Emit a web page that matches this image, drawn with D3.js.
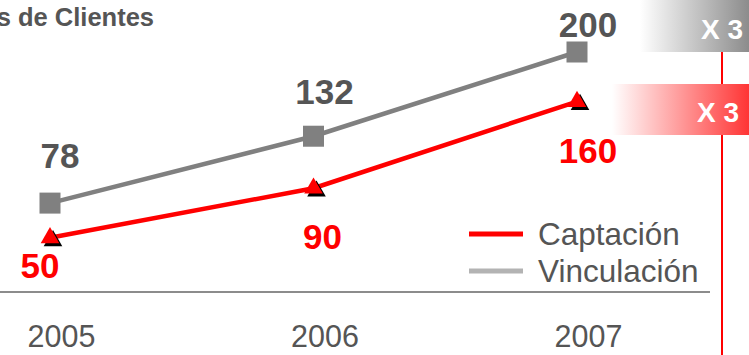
<!DOCTYPE html>
<html>
<head>
<meta charset="utf-8">
<script src="https://cdn.jsdelivr.net/npm/d3@7"></script>
<style>
  html, body { margin: 0; padding: 0; background: #fff; }
  svg { display: block; font-family: Arial, "Liberation Sans", sans-serif; }
</style>
</head>
<body>
<svg id="chart" width="749" height="355"></svg>
<script>
// Clientes por año
const years = ["2005", "2006", "2007"];
const captacion = [50, 90, 160];
const vinculacion = [78, 132, 200];
const seriesNames = ["Captación", "Vinculación"];
const growthLabels = ["X 3", "X 3"];
const title = "Miles de Clientes";

const svg = d3.select("#chart");
const W = 749, H = 355;

const x = d3.scalePoint().domain(years).range([50, 577]);
const y = d3.scaleLinear().domain([0, 200]).range([299.7, 52]);

const RED = "#ff0000";
const GREY = "#808080";
const LABEL_GREY = "#555555";

const defs = svg.append("defs");
const gGrey = defs.append("linearGradient").attr("id", "gGrey");
gGrey.append("stop").attr("offset", "0%").attr("stop-color", "#ffffff");
gGrey.append("stop").attr("offset", "100%").attr("stop-color", "#8c8c8c");
const gRed = defs.append("linearGradient").attr("id", "gRed");
gRed.append("stop").attr("offset", "0%").attr("stop-color", "#ffffff");
gRed.append("stop").attr("offset", "100%").attr("stop-color", "#ff3535");

// title (runs off the left edge of the slide)
svg.append("text")
  .attr("x", 154).attr("y", 26)
  .attr("text-anchor", "end")
  .attr("font-size", 25.5).attr("font-weight", "bold")
  .attr("fill", LABEL_GREY)
  .text(title);

// growth marker line on the right
svg.append("line")
  .attr("x1", 722).attr("x2", 722).attr("y1", 52).attr("y2", H)
  .attr("stroke", RED).attr("stroke-width", 2);

// growth boxes
svg.append("rect").attr("x", 640).attr("y", 0).attr("width", W - 640).attr("height", 52)
  .attr("fill", "url(#gGrey)");
svg.append("rect").attr("x", 612).attr("y", 84).attr("width", W - 612).attr("height", 51)
  .attr("fill", "url(#gRed)");
svg.append("text").attr("x", 743).attr("y", 39).attr("text-anchor", "end")
  .attr("font-size", 28).attr("font-weight", "bold").attr("fill", "#fff")
  .text(growthLabels[0]);
svg.append("text").attr("x", 739).attr("y", 122).attr("text-anchor", "end")
  .attr("font-size", 28).attr("font-weight", "bold").attr("fill", "#fff")
  .text(growthLabels[1]);

// baseline axis with year labels
const axis = d3.axisBottom(x).tickSize(0).tickPadding(0);
const axisG = svg.append("g").attr("transform", "translate(0,292)").call(axis);
axisG.select(".domain").remove();
axisG.append("line").attr("x1", 0).attr("x2", 710).attr("y1", 0).attr("y2", 0)
  .attr("stroke", "#666").attr("stroke-width", 1.5);
axisG.selectAll(".tick text")
  .attr("dx", 11).attr("dy", 0).attr("y", 55)
  .attr("font-size", 30.5).attr("font-family", "Arial, 'Liberation Sans', sans-serif")
  .attr("fill", LABEL_GREY);

const line = d3.line().x((d, i) => x(years[i])).y(d => y(d));

// Vinculación
svg.append("path").datum(vinculacion)
  .attr("d", line).attr("fill", "none")
  .attr("stroke", GREY).attr("stroke-width", 4.5);
const sq = 21;
svg.selectAll(".sq").data(vinculacion).join("rect")
  .attr("x", (d, i) => x(years[i]) - sq / 2)
  .attr("y", d => y(d) - sq / 2)
  .attr("width", sq).attr("height", sq)
  .attr("fill", GREY);

// Captación
svg.append("path").datum(captacion)
  .attr("d", line).attr("fill", "none")
  .attr("stroke", RED).attr("stroke-width", 4.5);
const tri = d3.symbol().type(d3.symbolTriangle).size(150);
svg.selectAll(".triShadow").data(captacion).join("path")
  .attr("d", tri)
  .attr("transform", (d, i) => `translate(${x(years[i]) + 3},${y(d) + 3})`)
  .attr("fill", "#000");
svg.selectAll(".tri").data(captacion).join("path")
  .attr("d", tri)
  .attr("transform", (d, i) => `translate(${x(years[i])},${y(d)})`)
  .attr("fill", RED);

// value labels
const greyOffsets = [[10, -35], [11, -32], [11, -15]];
const redOffsets = [[-10, 40], [9, 61], [11, 61]];
svg.selectAll(".vLab").data(vinculacion).join("text")
  .attr("x", (d, i) => x(years[i]) + greyOffsets[i][0])
  .attr("y", (d, i) => y(d) + greyOffsets[i][1])
  .attr("text-anchor", "middle")
  .attr("font-size", 35).attr("font-weight", "bold").attr("fill", LABEL_GREY)
  .text(d => d);
svg.selectAll(".cLab").data(captacion).join("text")
  .attr("x", (d, i) => x(years[i]) + redOffsets[i][0])
  .attr("y", (d, i) => y(d) + redOffsets[i][1])
  .attr("text-anchor", "middle")
  .attr("font-size", 35).attr("font-weight", "bold").attr("fill", RED)
  .text(d => d);

// legend
const legend = svg.append("g");
const legendColors = [RED, "#b3b3b3"];
const legendY = [234, 271];
seriesNames.forEach((name, i) => {
  legend.append("line")
    .attr("x1", 469).attr("x2", 523)
    .attr("y1", legendY[i]).attr("y2", legendY[i])
    .attr("stroke", legendColors[i]).attr("stroke-width", 5);
  legend.append("text")
    .attr("x", 538).attr("y", legendY[i] + 11)
    .attr("font-size", 31.5).attr("fill", LABEL_GREY)
    .text(name);
});
</script>
</body>
</html>
